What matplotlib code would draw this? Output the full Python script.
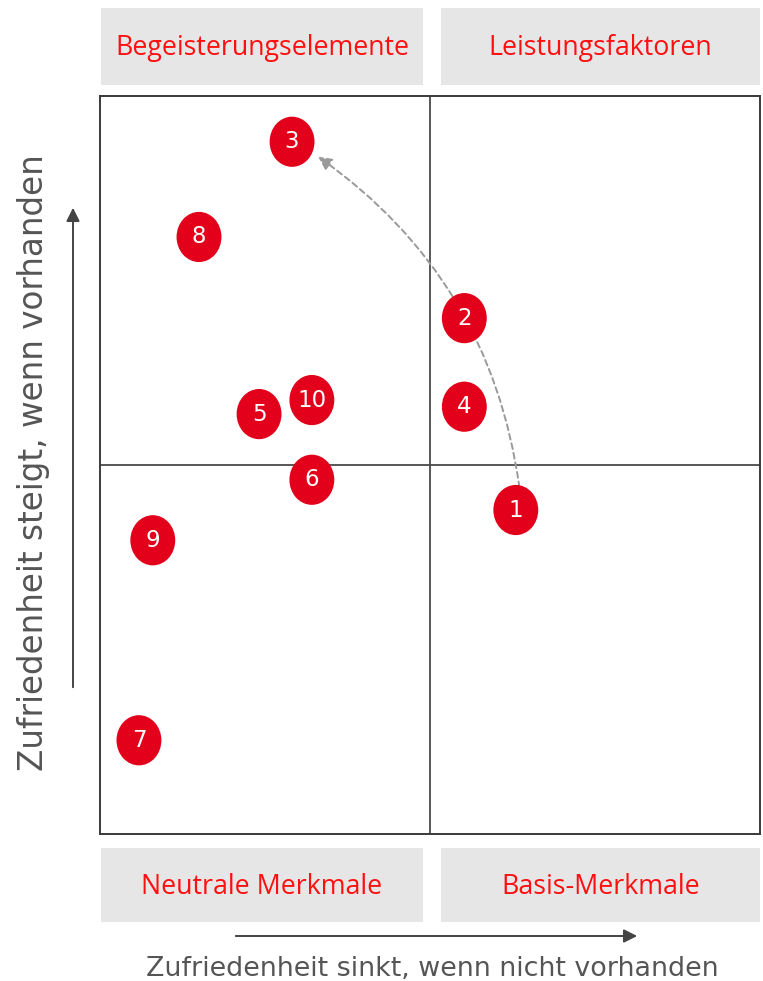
import matplotlib
matplotlib.use("Agg")
import matplotlib.pyplot as plt
from matplotlib.patches import Ellipse, Rectangle, FancyArrowPatch

# Kano classification of features (x: dissatisfaction if absent, y: satisfaction if present)
feature_ids = ["1", "2", "3", "4", "5", "6", "7", "8", "9", "10"]
x_vals = [6.30, 5.52, 2.91, 5.52, 2.41, 3.21, 0.59, 1.50, 0.80, 3.21]
y_vals = [4.39, 6.99, 9.38, 5.79, 5.69, 4.80, 1.27, 8.09, 3.98, 5.88]

quadrant_top = ["Begeisterungselemente", "Leistungsfaktoren"]
quadrant_bottom = ["Neutrale Merkmale", "Basis-Merkmale"]
x_label = "Zufriedenheit sinkt, wenn nicht vorhanden"
y_label = "Zufriedenheit steigt, wenn vorhanden"

# Development path of feature 1 towards feature 3
path_from, path_to = 0, 2

W, H = 763, 981
fig = plt.figure(figsize=(W / 100, H / 100), dpi=100)
fig.patch.set_facecolor("white")


def fx(px):
    return px / W


def fy(py):
    return 1 - py / H


ax = fig.add_axes([fx(100), fy(834), (760 - 100) / W, (834 - 96) / H])
ax.set_xlim(0, 10)
ax.set_ylim(0, 10)
ax.set_xticks([])
ax.set_yticks([])
for s in ax.spines.values():
    s.set_color("#3a3a3a")
    s.set_linewidth(1.4)
ax.axvline(5, color="#4a4a4a", lw=1.3, zorder=1)
ax.axhline(5, color="#4a4a4a", lw=1.3, zorder=1)

# curved dashed arrow
arrow = FancyArrowPatch(
    (x_vals[path_from] + 0.06, y_vals[path_from] + 0.27),
    (x_vals[path_to] + 0.36, y_vals[path_to] - 0.18),
    connectionstyle="arc3,rad=0.22",
    arrowstyle="-|>,head_length=8,head_width=4",
    linestyle=(0, (3, 2)), color="#9a9a9a", lw=1.4, zorder=2,
)
ax.add_patch(arrow)

for fid, x, y in zip(feature_ids, x_vals, y_vals):
    ax.add_patch(Ellipse((x, y), 0.68, 0.68, facecolor="#E2001A",
                         edgecolor="none", zorder=3))
    ax.text(x, y, fid, color="white", ha="center", va="center",
            fontsize=16.5, family="DejaVu Sans", zorder=4)

# grey quadrant caption boxes
box_color = "#E6E6E6"
red = "#FF1010"
for (x0, x1), top, bottom in zip([(101, 423), (441, 760)], quadrant_top, quadrant_bottom):
    fig.patches.append(Rectangle((fx(x0), fy(85)), (x1 - x0) / W, 77 / H,
                                 transform=fig.transFigure, facecolor=box_color,
                                 edgecolor="none"))
    fig.text(fx((x0 + x1) / 2), fy(48), top, color=red, ha="center",
             va="center", fontsize=19.3, family="Open Sans")
    fig.patches.append(Rectangle((fx(x0), fy(922)), (x1 - x0) / W, 74 / H,
                                 transform=fig.transFigure, facecolor=box_color,
                                 edgecolor="none"))
    fig.text(fx((x0 + x1) / 2), fy(887), bottom, color=red, ha="center",
             va="center", fontsize=19.3, family="Open Sans")

# direction arrows and axis captions
fig.patches.append(FancyArrowPatch((fx(233), fy(936)), (fx(640), fy(936)),
                                   transform=fig.transFigure,
                                   arrowstyle="-|>,head_length=8,head_width=4",
                                   color="#444444", lw=1.4))
fig.patches.append(FancyArrowPatch((fx(73), fy(690)), (fx(73), fy(205)),
                                   transform=fig.transFigure,
                                   arrowstyle="-|>,head_length=8,head_width=4",
                                   color="#444444", lw=1.4))
fig.text(fx(432), fy(969), x_label, color="#555555", ha="center", va="center",
         fontsize=19.4, family="DejaVu Sans")
fig.text(fx(34), fy(463), y_label, color="#555555", ha="center", va="center",
         fontsize=23.5, family="DejaVu Sans", rotation=90)

fig.savefig("out.png", dpi=100, facecolor="white")
